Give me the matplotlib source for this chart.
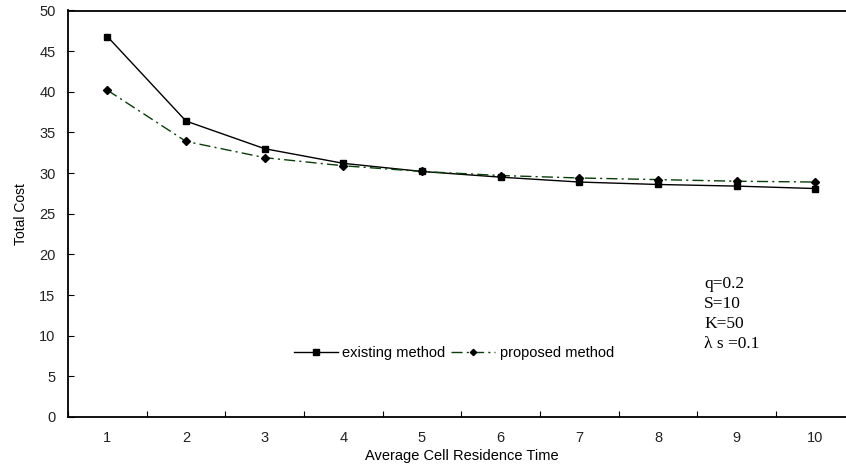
import matplotlib
matplotlib.use("Agg")
import matplotlib.pyplot as plt

categories = [1, 2, 3, 4, 5, 6, 7, 8, 9, 10]
existing = [46.8, 36.4, 33.0, 31.2, 30.2, 29.5, 28.9, 28.6, 28.4, 28.1]
proposed = [40.2, 33.9, 31.9, 30.9, 30.2, 29.7, 29.4, 29.2, 29.0, 28.9]
yticks = [0, 5, 10, 15, 20, 25, 30, 35, 40, 45, 50]
params = ["q=0.2", "S=10", "K=50", "λ s =0.1"]

plt.rcParams['font.family'] = ['Liberation Sans', 'DejaVu Sans']

fig = plt.figure(figsize=(8.46, 4.68), dpi=100)
ax = fig.add_axes([68/846, 1-417/468, (854.7-68)/846, (417-10.5)/468])

ax.plot(categories, existing, color='black', lw=1.0, marker='s', ms=5,
        mfc='black', mec='black', label='existing method')
ax.plot(categories, proposed, color='#0a3d0a', lw=1.0, ls=(0, (8, 3, 1.5, 3)),
        marker='D', ms=4, mfc='black', mec='black', label='proposed method')

ax.set_xlim(0.5, 10.5)
ax.set_ylim(0, 50)
ax.set_yticks(yticks)
ax.set_xticks(categories)
ax.set_xticks([c + 0.5 for c in categories[:-1]] + [0.5], minor=True)
ax.tick_params(axis='x', which='major', length=0, pad=10, labelsize=10.5, labelcolor='#222222')
ax.tick_params(axis='x', which='minor', length=4, direction='in', width=0.8)
ax.tick_params(axis='y', which='major', length=4, direction='in', pad=9, labelsize=10.5, labelcolor='#222222', width=0.8)

for s in ['left', 'bottom', 'top']:
    ax.spines[s].set_linewidth(1.3)
ax.spines['right'].set_visible(False)

ax.set_xlabel('Average Cell Residence Time', fontsize=10.5, labelpad=3)
ax.set_ylabel('Total Cost', fontsize=10, labelpad=8)

ax.legend(loc='center', bbox_to_anchor=((454-68)/(854.7-68), (417-353)/(417-10.5)),
          ncol=2, frameon=False, fontsize=10.5, handlelength=3.0, handletextpad=0.3,
          columnspacing=0.4, markerscale=0.8)

fig.text(704/846, 1-276/468, "\n".join(params), fontsize=12.5,
         family=['Liberation Serif', 'DejaVu Serif'], va='top', ha='left',
         linespacing=1.33, transform=fig.transFigure)

fig.savefig('out.png', dpi=100)
